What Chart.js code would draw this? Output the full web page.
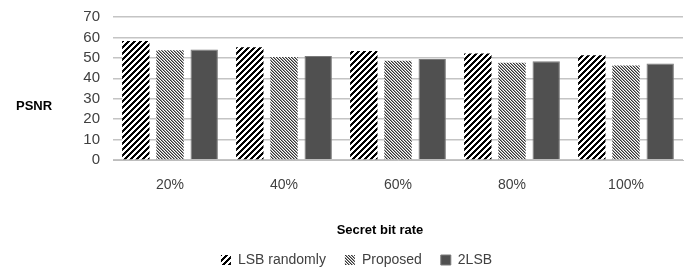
<!DOCTYPE html>
<html>
<head>
<meta charset="utf-8">
<script src="https://cdn.jsdelivr.net/npm/chart.js@4.4.1/dist/chart.umd.min.js"></script>
<style>
  html, body { margin: 0; padding: 0; background: #fff; }
  #wrap { width: 686px; height: 270px; }
</style>
</head>
<body>
<div id="wrap"><canvas id="myChart" width="686" height="270"></canvas></div>
<script>
// Chart data
const categories = ['20%', '40%', '60%', '80%', '100%'];
const lsbRandomly = [58.2, 55.2, 53.3, 52.1, 51.3];
const proposed = [53.7, 50.4, 48.6, 47.6, 46.3];
const twoLsb = [54.1, 50.9, 49.4, 48.3, 47.2];
const yTicks = [0, 10, 20, 30, 40, 50, 60, 70];

const FONT = '"Liberation Sans", Arial, sans-serif';

// Build a small repeating pattern, colour picked per pixel
function makePattern(size, pick) {
    const c = document.createElement('canvas');
    c.width = size;
    c.height = size;
    const cx = c.getContext('2d');
    for (let y = 0; y < size; y++) {
        for (let x = 0; x < size; x++) {
            cx.fillStyle = pick(x, y);
            cx.fillRect(x, y, 1, 1);
        }
    }
    return cx.createPattern(c, 'repeat');
}

const wideStripes = makePattern(6, (x, y) => (x + y) % 6 < 3 ? '#000000' : '#ffffff');
const fineStripes = makePattern(3, (x, y) => {
    const k = ((x - y) % 3 + 3) % 3;
    return k === 0 ? '#333333' : (k === 1 ? '#9a9a9a' : '#ffffff');
});

// Axis titles drawn by hand: "PSNR" sits horizontal on the left,
// "Secret bit rate" is a bit left of the plot centre
const axisTexts = {
    id: 'axisTexts',
    afterDraw(chart) {
        const ctx = chart.ctx;
        ctx.save();
        ctx.font = 'bold 13px ' + FONT;
        ctx.fillStyle = '#000000';
        ctx.textBaseline = 'middle';
        ctx.textAlign = 'left';
        ctx.fillText('PSNR', 16, 106);
        ctx.textAlign = 'center';
        ctx.fillText('Secret bit rate', 380, 230);
        ctx.restore();
    }
};

const ctx = document.getElementById('myChart').getContext('2d');
new Chart(ctx, {
    type: 'bar',
    data: {
        labels: categories,
        datasets: [{
            label: 'LSB randomly',
            data: lsbRandomly,
            backgroundColor: wideStripes,
            borderWidth: 0
        }, {
            label: 'Proposed',
            data: proposed,
            backgroundColor: fineStripes,
            borderWidth: 0
        }, {
            label: '2LSB',
            data: twoLsb,
            backgroundColor: '#505050',
            borderColor: '#7a7a7a',
            borderWidth: 1
        }]
    },
    options: {
        responsive: false,
        animation: false,
        devicePixelRatio: 1,
        categoryPercentage: 0.9,
        barPercentage: 0.8,
        layout: {
            padding: { left: 30, right: 3, top: 17, bottom: -7 }
        },
        plugins: {
            legend: {
                position: 'bottom',
                labels: {
                    boxWidth: 10,
                    boxHeight: 10,
                    padding: 19,
                    color: '#404040',
                    font: { family: FONT, size: 14 }
                }
            },
            tooltip: { enabled: false }
        },
        scales: {
            x: {
                afterFit(scale) {
                    scale.height = 74;
                },
                grid: { display: false, drawTicks: false },
                border: { color: '#bdbdbd', width: 1 },
                ticks: {
                    color: '#404040',
                    padding: 17,
                    font: { family: FONT, size: 14 }
                }
            },
            y: {
                min: 0,
                max: 70,
                afterBuildTicks(scale) {
                    scale.ticks = yTicks.map(v => ({ value: v }));
                },
                afterFit(scale) {
                    scale.width = 83;
                    scale.paddingTop = 0;
                    scale.paddingBottom = 0;
                },
                grid: { color: '#c4c4c4', lineWidth: 1.5, drawTicks: false },
                border: { display: false },
                ticks: {
                    autoSkip: false,
                    color: '#404040',
                    padding: 13,
                    font: { family: FONT, size: 15 }
                }
            }
        }
    },
    plugins: [axisTexts]
});
</script>
</body>
</html>
